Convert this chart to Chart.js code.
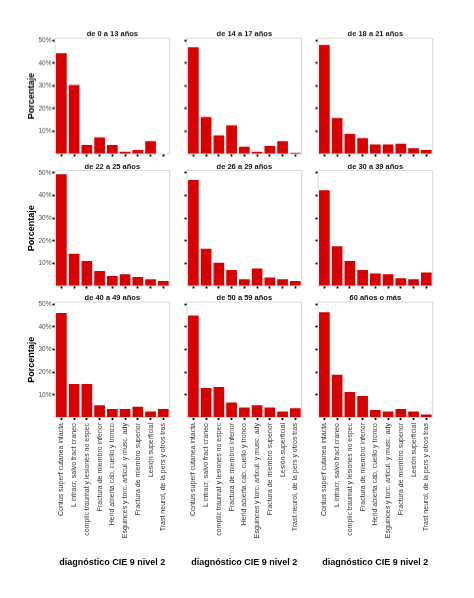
<!DOCTYPE html>
<html>
<head>
<meta charset="utf-8">
<script src="https://cdn.jsdelivr.net/npm/chart.js@4/dist/chart.umd.min.js"></script>
<style>
    html, body { margin: 0; padding: 0; background: #fff; }
    #page { position: relative; width: 474px; height: 598px; overflow: hidden; }
    #page canvas { position: absolute; }
</style>
</head>
<body>
<div id="page"></div>
<script>
// 诊断类别 (CIE 9 nivel 2)
const CATEGORIES = [
    'Contus superf cutanea intacta',
    'L intracr, salvo fract craneo',
    'complic traumat y lesiones no espec',
    'Fractura de miembro inferior',
    'Herid abierta cab, cuello y tronco',
    'Esguinces y torc. articul. y musc. ady',
    'Fractura de miembro superior',
    'Lesión superficial',
    'Trast neurol, de la pers y otros tras'
];

const GROUP_TITLES = [
    'de 0 a 13 años', 'de 14 a 17 años', 'de 18 a 21 años',
    'de 22 a 25 años', 'de 26 a 29 años', 'de 30 a 39 años',
    'de 40 a 49 años', 'de 50 a 59 años', '60 años o más'
];

// 各年龄组的百分比
const AGE_0_13  = [44.3, 30.4, 4.0, 7.3, 4.0, 1.0, 1.8, 5.7, 0];
const AGE_14_17 = [47.0, 16.3, 8.2, 12.6, 3.2, 1.0, 3.5, 5.7, 0.6];
const AGE_18_21 = [48.0, 15.9, 8.9, 7.0, 4.2, 4.2, 4.5, 2.6, 1.8];
const AGE_22_25 = [49.3, 14.2, 11.0, 6.6, 4.4, 5.2, 4.0, 3.0, 2.2];
const AGE_26_29 = [46.8, 16.5, 10.3, 7.1, 3.0, 7.7, 3.7, 3.0, 2.2];
const AGE_30_39 = [42.3, 17.6, 11.0, 7.1, 5.5, 5.2, 3.4, 3.0, 6.0];
const AGE_40_49 = [46.1, 14.8, 14.8, 5.4, 3.7, 3.7, 4.8, 2.6, 3.7];
const AGE_50_59 = [45.0, 13.0, 13.5, 6.6, 4.4, 5.4, 4.4, 2.6, 4.1];
const AGE_60_UP = [46.5, 18.9, 11.3, 9.5, 3.3, 2.6, 3.8, 2.6, 1.3];

const GROUP_VALUES = [
    AGE_0_13, AGE_14_17, AGE_18_21,
    AGE_22_25, AGE_26_29, AGE_30_39,
    AGE_40_49, AGE_50_59, AGE_60_UP
];

const Y_TICKS = [10, 20, 30, 40, 50];
const Y_MAX = 51;
const Y_TITLE = 'Porcentaje';
const X_TITLE = 'diagnóstico CIE 9 nivel 2';

const BAR_COLOR = '#d90000';
const FONT = "'Liberation Sans', Arial, Helvetica, sans-serif";

// 面板布局 (绘图区边界)
const COLS = [
    { canvasLeft: 0,   left: 55,  right: 171 },
    { canvasLeft: 175, left: 187, right: 303 },
    { canvasLeft: 307, left: 318, right: 434 }
];
const ROWS = [
    { canvasTop: 20,  top: 38,  bottom: 153.5, titleY: 34.3 },
    { canvasTop: 152, top: 170.5, bottom: 286, titleY: 166.5 },
    { canvasTop: 284, top: 302, bottom: 417.5, titleY: 298.3 }
];
const BOTTOM_EDGE = 576;
const RIGHT_PAD = 4;

Chart.defaults.font.family = FONT;
Chart.defaults.animation = false;

// 灰色面板边框
const panelBorder = {
    id: 'panelBorder',
    afterDatasetsDraw(chart) {
        const { ctx, chartArea: a } = chart;
        ctx.save();
        ctx.strokeStyle = '#d9d9d9';
        ctx.lineWidth = 1;
        ctx.strokeRect(a.left, a.top, a.right - a.left, a.bottom - a.top);
        ctx.restore();
    }
};

function makePanel(index) {
    const col = COLS[index % 3];
    const row = ROWS[Math.floor(index / 3)];
    const isLeft = index % 3 === 0;
    const isBottom = Math.floor(index / 3) === 2;

    const width = col.right - col.canvasLeft + RIGHT_PAD;
    const xHeight = isBottom ? BOTTOM_EDGE - row.bottom : 6;
    const height = row.bottom - row.canvasTop + xHeight;

    const canvas = document.createElement('canvas');
    canvas.style.left = col.canvasLeft + 'px';
    canvas.style.top = row.canvasTop + 'px';
    canvas.style.width = width + 'px';
    canvas.style.height = height + 'px';
    document.getElementById('page').appendChild(canvas);

    const titleSize = 7.5;
    const padTop = row.titleY - titleSize / 2 - row.canvasTop;
    const padBottom = row.top - row.canvasTop - titleSize - padTop;

    new Chart(canvas, {
        type: 'bar',
        data: {
            labels: CATEGORIES,
            datasets: [{
                data: GROUP_VALUES[index],
                backgroundColor: BAR_COLOR,
                borderWidth: 0,
                barPercentage: 0.84,
                categoryPercentage: 1
            }]
        },
        options: {
            responsive: false,
            devicePixelRatio: 1,
            layout: { padding: { left: 0, right: RIGHT_PAD, top: 0, bottom: 0 } },
            plugins: {
                legend: { display: false },
                tooltip: { enabled: false },
                title: {
                    display: true,
                    fullSize: false,   // 标题居中于绘图区
                    text: GROUP_TITLES[index],
                    color: '#111',
                    font: { size: titleSize, weight: 'bold', lineHeight: 1 },
                    padding: { top: padTop, bottom: padBottom }
                }
            },
            scales: {
                x: {
                    offset: true,
                    border: { display: false },
                    grid: {
                        offset: false,
                        drawOnChartArea: false,
                        drawTicks: true,
                        tickLength: 2.5,
                        tickWidth: 1.8,
                        tickColor: '#000'
                    },
                    ticks: {
                        autoSkip: false,
                        maxRotation: 90,
                        minRotation: 90,
                        padding: 3,
                        color: '#333',
                        font: { size: 7 },
                        callback(v) { return isBottom ? this.getLabelForValue(v) : ''; }
                    },
                    title: {
                        display: isBottom,
                        text: X_TITLE,
                        color: '#000',
                        font: { size: 9, weight: 'bold' },
                        padding: { top: 0, bottom: BOTTOM_EDGE - 563 - 5.4 }
                    },
                    afterFit(scale) { scale.height = xHeight; }
                },
                y: {
                    min: 0,
                    max: Y_MAX,
                    border: { display: false },
                    grid: {
                        drawOnChartArea: false,
                        drawTicks: true,
                        tickLength: 2.5,
                        tickWidth: 1.8,
                        tickColor: '#000'
                    },
                    ticks: {
                        padding: 1,
                        color: '#4d4d4d',
                        font: { size: 6.5 },
                        callback(v) { return isLeft ? v + '%' : ''; }
                    },
                    afterBuildTicks(scale) {
                        scale.ticks = Y_TICKS.map(v => ({ value: v }));
                    },
                    title: {
                        display: isLeft,
                        text: Y_TITLE,
                        color: '#000',
                        font: { size: 9, weight: 'bold' },
                        padding: { top: 32 - 5.4, bottom: 0 }
                    },
                    afterFit(scale) { scale.width = col.left - col.canvasLeft; }
                }
            }
        },
        plugins: [panelBorder]
    });
}

for (let i = 0; i < GROUP_VALUES.length; i++) {
    makePanel(i);
}
</script>
</body>
</html>
